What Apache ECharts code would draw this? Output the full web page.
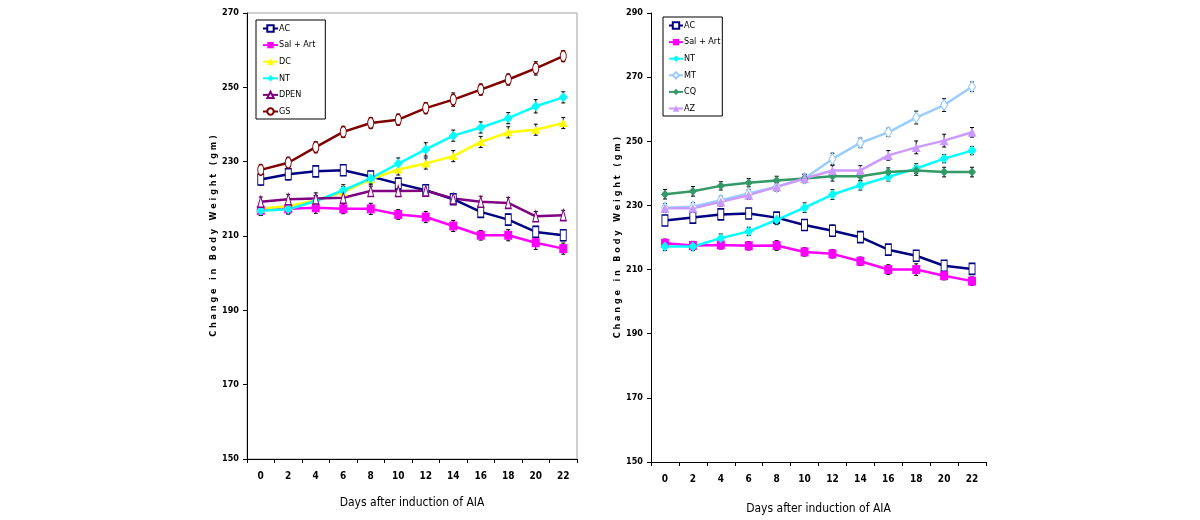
<!DOCTYPE html>
<html><head><meta charset="utf-8">
<script src="https://cdn.jsdelivr.net/npm/echarts@6/dist/echarts.min.js"></script>
<style>html,body{margin:0;padding:0;background:#fff}#c{width:1200px;height:520px}</style>
</head><body><div id="c"></div>
<script>
const days = ['0','2','4','6','8','10','12','14','16','18','20','22'];
const yTicksLeft = [150,170,190,210,230,250,270];
const yTicksRight = [150,170,190,210,230,250,270,290];

// Left panel
const acL   = [225.2,226.6,227.4,227.7,226.0,224.1,222.3,219.9,216.5,214.4,211.1,210.2];
const salL  = [216.9,217.3,217.6,217.3,217.3,215.8,215.1,212.7,210.2,210.2,208.2,206.6];
const dcL   = [217.4,218.0,219.6,221.8,225.3,227.9,229.5,231.5,235.3,237.9,238.6,240.4];
const ntL   = [216.8,217.2,219.4,222.3,225.5,229.5,233.3,237.0,239.2,241.7,244.9,247.3];
const dpenL = [219.2,219.9,220.1,220.3,222.1,222.1,222.2,220.1,219.2,218.9,215.3,215.6];
const gsL   = [227.8,229.7,233.9,238.0,240.4,241.3,244.4,246.7,249.4,252.1,255.1,258.4];
const acLErr   = [1.5,1.5,1.3,1.3,1.5,1.5,1.3,1.3,1.5,1.5,1.5,1.5];
const salLErr  = [1.3,1.3,1.5,1.3,1.5,1.3,1.5,1.5,1.3,1.5,1.8,1.5];
const dcLErr   = [1.3,1.3,1.3,1.5,1.5,1.5,1.5,1.5,1.5,1.5,1.5,1.5];
const ntLErr   = [1.3,1.3,1.3,1.5,1.3,1.5,1.8,1.5,1.5,1.5,1.8,1.5];
const dpenLErr = [1.3,1.3,1.5,1.5,1.3,1.5,1.3,1.3,1.5,1.5,1.3,1.3];
const gsLErr   = [1.3,1.5,1.5,1.5,1.5,1.5,1.5,1.8,1.5,1.5,1.8,1.5];

// Right panel
const acR  = [225.3,226.2,227.2,227.5,226.2,223.9,222.1,220.1,216.2,214.3,211.2,210.2];
const salR = [218.2,217.5,217.7,217.4,217.5,215.5,214.9,212.6,210.0,210.0,208.1,206.4];
const ntR  = [217.2,217.2,219.8,221.9,225.5,229.3,233.4,236.3,238.9,241.5,244.6,247.1];
const mtR  = [229.3,229.6,231.6,233.7,235.8,238.4,244.5,249.5,252.8,257.4,261.3,267.0];
const cqR  = [233.5,234.4,236.1,237.1,237.8,238.4,239.1,239.1,240.4,240.9,240.4,240.4];
const azR  = [229.1,229.1,231.1,233.2,235.8,238.4,240.9,240.9,245.6,248.1,250.2,252.8];
const acRErr  = [1.3,1.5,1.5,1.3,1.3,1.5,1.8,1.5,1.3,1.5,1.3,1.3];
const salRErr = [1.3,1.3,1.3,1.3,1.5,1.3,1.3,1.3,1.5,1.8,1.3,1.3];
const ntRErr  = [1.3,1.3,1.3,1.3,1.5,1.5,1.5,1.5,1.3,1.5,1.3,1.3];
const mtRErr  = [1.3,1.3,1.3,1.3,1.3,1.3,1.8,1.5,1.3,2.0,2.0,1.5];
const cqRErr  = [1.5,1.5,1.3,1.3,1.3,1.3,1.5,1.5,1.3,1.5,1.5,1.5];
const azRErr  = [1.3,1.3,1.3,1.3,1.3,1.3,1.5,1.5,1.5,2.0,2.0,1.5];

const FONT = "'Liberation Sans Narrow','DejaVu Sans Condensed','Liberation Sans',sans-serif";
const yTitle = 'C h a n g e   i n   B o d y   W e i g h t   ( g m )';

function lineSeries(name, data, color, symbol, size, open, gi){
  return {
    type:'line', name, data, xAxisIndex:gi, yAxisIndex:gi,
    symbol, symbolSize:size, showAllSymbol:true,
    lineStyle:{color, width:2.5},
    itemStyle:{color: open ? '#ffffff' : color, borderColor: color, borderWidth: open?1.2:0},
    emphasis:{disabled:true}, animation:false, z:3
  };
}
function errSeries(vals, errs, gi){
  return {
    type:'custom', xAxisIndex:gi, yAxisIndex:gi, silent:true, animation:false, z:2,
    data: vals.map((v,i)=>[i, v, errs[i]]),
    renderItem(params, api){
      const x = api.value(0), v = api.value(1), e = api.value(2);
      const hi = api.coord([x, v+e]), lo = api.coord([x, v-e]);
      const st = {stroke:'#000', lineWidth:1};
      return {type:'group', children:[
        {type:'line', shape:{x1:hi[0],y1:hi[1],x2:lo[0],y2:lo[1]}, style:st},
        {type:'line', shape:{x1:hi[0]-2,y1:hi[1],x2:hi[0]+2,y2:hi[1]}, style:st},
        {type:'line', shape:{x1:lo[0]-2,y1:lo[1],x2:lo[0]+2,y2:lo[1]}, style:st}
      ]};
    }
  };
}
function xAx(gi){
  return {gridIndex:gi, type:'category', data:days, boundaryGap:true,
    axisLine:{lineStyle:{color:'#000', width:1}},
    axisTick:{show:true, length:4, inside:false, lineStyle:{color:'#000'}},
    axisLabel:{fontFamily:FONT, fontSize:10, fontWeight:'bold', color:'#000', margin:12},
    name:'Days after induction of AIA', nameLocation:'middle', nameGap: gi===0?38:41,
    nameTextStyle:{fontFamily:FONT, fontSize:12, color:'#000'},
    splitLine:{show:false}};
}
function yAx(gi, max){
  return {gridIndex:gi, type:'value', min:150, max, interval:20,
    axisLine:{show:true, lineStyle:{color:'#000', width:1}},
    axisTick:{show:true, length:4, lineStyle:{color:'#000'}},
    axisLabel:{fontFamily:FONT, fontSize:9, fontWeight:'bold', color:'#000', margin:8},
    splitLine:{show:false},
    name:yTitle, nameLocation:'middle', nameGap: gi===0?27:25, nameRotate:90,
    nameTextStyle:{fontFamily:FONT, fontSize:9, fontWeight:'bold', color:'#000'}};
}
function legendCfg(names, left, top, pad, iw){
  return {orient:'vertical', left, top, data:names,
    backgroundColor:'#fff', borderColor:'#000', borderWidth:1,
    padding:pad, itemWidth:iw, itemHeight:8, itemGap:7.6,
    textStyle:{fontFamily:FONT, fontSize:9, color:'#000', padding:[0,0,0,-4]},
    selectedMode:false};
}

const series = [
  lineSeries('AC', acL, '#000080', 'rect', [6,11], true, 0),
  lineSeries('Sal + Art', salL, '#ff00ff', 'rect', [8,9], false, 0),
  lineSeries('DC', dcL, '#ffff00', 'triangle', [9,8], false, 0),
  lineSeries('NT', ntL, '#00ffff', 'diamond', [9,10], false, 0),
  lineSeries('DPEN', dpenL, '#800080', 'triangle', [6,11], true, 0),
  lineSeries('GS', gsL, '#800000', 'circle', [6,11], true, 0),
  errSeries(acL, acLErr, 0), errSeries(salL, salLErr, 0), errSeries(dcL, dcLErr, 0),
  errSeries(ntL, ntLErr, 0), errSeries(dpenL, dpenLErr, 0), errSeries(gsL, gsLErr, 0),
  lineSeries('AC', acR, '#000080', 'rect', [6,11], true, 1),
  lineSeries('Sal + Art', salR, '#ff00ff', 'rect', [8,9], false, 1),
  lineSeries('NT', ntR, '#00ffff', 'diamond', [9,10], false, 1),
  lineSeries('MT', mtR, '#99ccff', 'diamond', [7,11], true, 1),
  lineSeries('CQ', cqR, '#339966', 'diamond', [8,9], false, 1),
  lineSeries('AZ', azR, '#cc99ff', 'triangle', [9,9], false, 1),
  errSeries(acR, acRErr, 1), errSeries(salR, salRErr, 1), errSeries(ntR, ntRErr, 1),
  errSeries(mtR, mtRErr, 1), errSeries(cqR, cqRErr, 1), errSeries(azR, azRErr, 1)
];

const chart = echarts.init(document.getElementById('c'), null, {renderer:'canvas'});
chart.setOption({
  backgroundColor:'#fff',
  animation:false,
  grid:[
    {left:247, top:13, width:330, height:446, show:true, borderColor:'#a0a0a0', borderWidth:1, backgroundColor:'transparent'},
    {left:651, top:13, width:335, height:453}
  ],
  xAxis:[xAx(0), xAx(1)],
  yAxis:[yAx(0, 270), yAx(1, 290)],
  legend:[
    legendCfg(['AC','Sal + Art','DC','NT','DPEN','GS'], 256, 20, [4,10,3,6], 15),
    legendCfg(['AC','Sal + Art','NT','MT','CQ','AZ'], 663, 17, [4,2,3,5], 14)
  ],
  series
});
</script></body></html>
